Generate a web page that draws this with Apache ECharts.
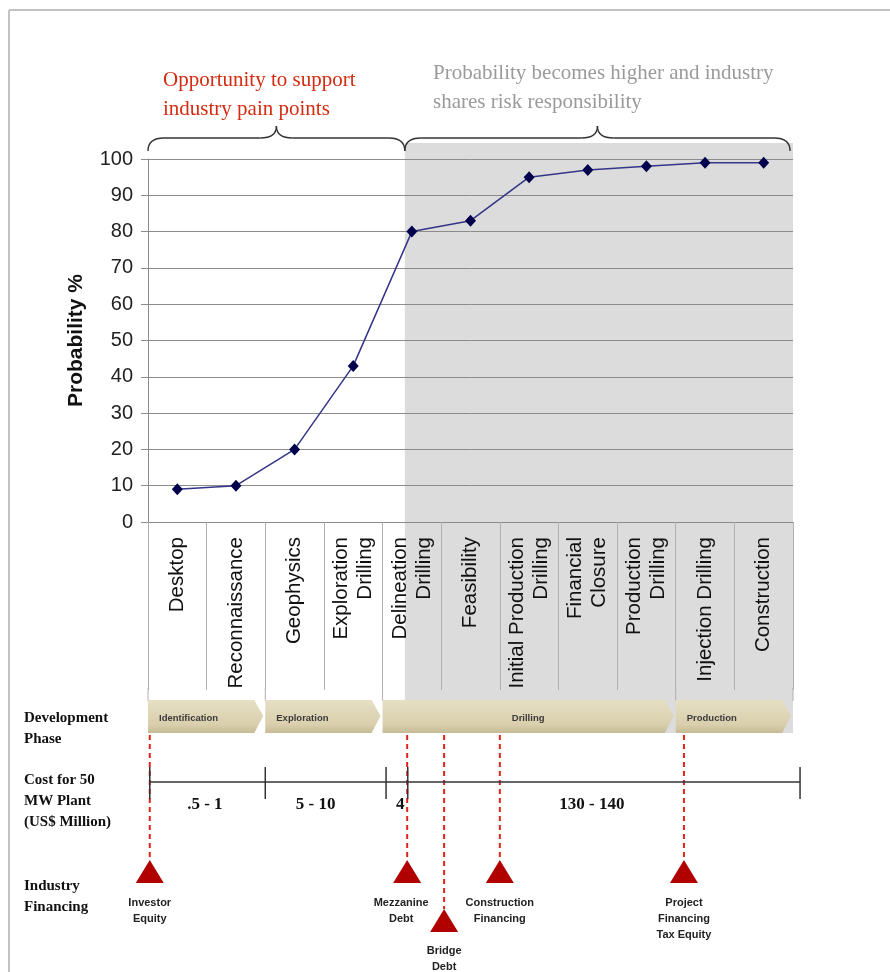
<!DOCTYPE html>
<html><head><meta charset="utf-8">
<script src="https://cdn.jsdelivr.net/npm/echarts@6/dist/echarts.min.js"></script>
<style>html,body{margin:0;padding:0;background:#fff}#c{width:890px;height:972px}</style>
</head><body><div id="c"></div>
<script>
// ---- data ----
const categories = ['Desktop','Reconnaissance','Geophysics','Exploration\nDrilling','Delineation\nDrilling','Feasibility','Initial Production\nDrilling','Financial\nClosure','Production\nDrilling','Injection Drilling','Construction'];
const probability = [9, 10, 20, 43, 80, 83, 95, 97, 98, 99, 99];
const yMin = 0, yMax = 100, yInterval = 10;
const yAxisTitle = 'Probability %';
const phaseNames = ['Identification','Exploration','Drilling','Production'];
const phaseStart = [0, 2, 4, 9];
const phaseEnd = [2, 4, 9, 11];
const phaseTextAlign = ['left','left','center','left'];
const costTicks = [0.03, 2.0, 4.06, 4.43, 11.12];
const costLabels = ['.5 - 1', '5 - 10', '4', '130 - 140'];
const costLabelPos = [0.97, 2.86, 4.3, 7.57];
const financingNames = ['Investor\nEquity','Mezzanine\nDebt','Bridge\nDebt','Construction\nFinancing','Project\nFinancing\nTax Equity'];
const financingPos = [0.03, 4.42, 5.05, 6.0, 9.14];
const financingRow = [0, 0, 1, 0, 0];
const shadeSpan = [4.38, 11];
const braceSpans = [[0, 4.38], [4.38, 10.95]];
const noteLeft = 'Opportunity to support\nindustry pain points';
const noteRight = 'Probability becomes higher and industry\nshares risk responsibility';
const rowLabels = ['Development\nPhase', 'Cost for 50\nMW Plant\n(US$ Million)', 'Industry\nFinancing'];

// ---- chart ----
const chart = echarts.init(document.getElementById('c'), null, {renderer: 'canvas'});
const SANS = '"Liberation Sans", Arial, sans-serif';
const SERIF = '"Liberation Serif", "Times New Roman", serif';
chart.setOption({
  animation: false,
  backgroundColor: '#fff',
  grid: {left: 148, right: 97, top: 159, bottom: 450, containLabel: false},
  xAxis: [{
    type: 'category', data: categories, boundaryGap: true, gridIndex: 0,
    axisLine: {show: true, lineStyle: {color: '#8a8a8a', width: 1}},
    axisTick: {show: true, interval: 0, length: 168, lineStyle: {color: '#b0b0b0', width: 1}},
    axisLabel: {interval: 0, rotate: 90, margin: 15, color: '#111', fontSize: 20.5, lineHeight: 24, fontFamily: SANS},
    splitLine: {show: false}
  }, {
    type: 'value', min: 0, max: 11, show: false, gridIndex: 0
  }],
  yAxis: {
    type: 'value', min: yMin, max: yMax, interval: yInterval,
    name: yAxisTitle, nameLocation: 'middle', nameGap: 61, nameRotate: 90,
    nameTextStyle: {fontSize: 21, fontWeight: 'bold', color: '#111', fontFamily: SANS},
    axisLine: {show: true, lineStyle: {color: '#8a8a8a'}},
    axisTick: {show: true, length: 7, lineStyle: {color: '#8a8a8a'}},
    axisLabel: {margin: 15, color: '#222', fontSize: 20, fontFamily: SANS},
    splitLine: {show: true, lineStyle: {color: '#8c8c8c', width: 1}}
  },
  series: [{
    type: 'line', data: probability, xAxisIndex: 0,
    symbol: 'diamond', symbolSize: [11, 12], showSymbol: true,
    lineStyle: {color: '#343488', width: 1.5},
    itemStyle: {color: '#00004d'},
    z: 5
  }]
});

const xOf = p => chart.convertToPixel({xAxisIndex: 1}, p);
const G = [];
// border
G.push({type: 'line', shape: {x1: 9, y1: 10, x2: 890, y2: 10}, style: {stroke: '#c2c2c2', lineWidth: 2}, z: 100});
G.push({type: 'line', shape: {x1: 9, y1: 10, x2: 9, y2: 972}, style: {stroke: '#c2c2c2', lineWidth: 2}, z: 100});
// shaded region
G.push({type: 'rect', shape: {x: xOf(shadeSpan[0]), y: 143, width: xOf(shadeSpan[1]) - xOf(shadeSpan[0]), height: 733 - 143}, style: {fill: '#dcdcdc'}, z: -10});
// braces
const braceStyle = {stroke: '#333', lineWidth: 1.4, fill: null};
braceSpans.forEach(([a, b]) => {
  const x1 = xOf(a), x2 = xOf(b), xm = (x1 + x2) / 2, yb = 151, ym = 138, yt = 126, r = 16;
  G.push({type: 'bezierCurve', shape: {x1: x1, y1: yb, cpx1: x1, cpy1: ym, x2: x1 + r, y2: ym}, style: braceStyle, z: 100});
  G.push({type: 'line', shape: {x1: x1 + r, y1: ym, x2: xm - r, y2: ym}, style: braceStyle, z: 100});
  G.push({type: 'bezierCurve', shape: {x1: xm - r, y1: ym, cpx1: xm, cpy1: ym, x2: xm, y2: yt}, style: braceStyle, z: 100});
  G.push({type: 'bezierCurve', shape: {x1: xm, y1: yt, cpx1: xm, cpy1: ym, x2: xm + r, y2: ym}, style: braceStyle, z: 100});
  G.push({type: 'line', shape: {x1: xm + r, y1: ym, x2: x2 - r, y2: ym}, style: braceStyle, z: 100});
  G.push({type: 'bezierCurve', shape: {x1: x2 - r, y1: ym, cpx1: x2, cpy1: ym, x2: x2, y2: yb}, style: braceStyle, z: 100});
});
// notes
G.push({type: 'text', x: 163, y: 66, style: {text: noteLeft, fill: '#d42c10', font: '21px ' + SERIF, lineHeight: 29, textVerticalAlign: 'top'}, z: 100});
G.push({type: 'text', x: 433, y: 59, style: {text: noteRight, fill: '#9a9a9a', font: '21px ' + SERIF, lineHeight: 29, textVerticalAlign: 'top'}, z: 100});
// phase boundary extension lines
[0, 2, 4, 9, 11].forEach(p => {
  G.push({type: 'line', shape: {x1: xOf(p), y1: 688, x2: xOf(p), y2: 701}, style: {stroke: '#b0b0b0', lineWidth: 1}, z: 50});
});
// phase chevrons
phaseNames.forEach((n, i) => {
  const xs = xOf(phaseStart[i]), xe = xOf(phaseEnd[i]) - 2;
  G.push({type: 'polygon', shape: {points: [[xs, 700], [xe - 9, 700], [xe, 716], [xe - 9, 733], [xs, 733]]},
    style: {fill: {type: 'linear', x: 0, y: 0, x2: 0, y2: 1, colorStops: [{offset: 0, color: '#e6dfc4'}, {offset: 0.75, color: '#d9cfad'}, {offset: 1, color: '#c6ba94'}]}}, z: 60});
  const al = phaseTextAlign[i];
  const tx = al === 'center' ? (xs + xe) / 2 : xs + 11;
  G.push({type: 'text', x: tx, y: 718, style: {text: n, fill: '#3a3a3a', font: 'bold 9.5px ' + SANS, textAlign: al, textVerticalAlign: 'middle'}, z: 61});
});
// row labels
const rowY = [708, 770, 876];
rowLabels.forEach((t, i) => {
  G.push({type: 'text', x: 24, y: rowY[i], style: {text: t, fill: '#111', font: 'bold 15px ' + SERIF, lineHeight: 21, textVerticalAlign: 'top'}, z: 100});
});
// cost scale
G.push({type: 'line', shape: {x1: xOf(costTicks[0]), y1: 782, x2: xOf(costTicks[costTicks.length - 1]), y2: 782}, style: {stroke: '#333', lineWidth: 1.5}, z: 100});
costTicks.forEach(p => {
  G.push({type: 'line', shape: {x1: xOf(p), y1: 767, x2: xOf(p), y2: 799}, style: {stroke: '#333', lineWidth: 1.5}, z: 100});
});
costLabels.forEach((t, i) => {
  G.push({type: 'text', x: xOf(costLabelPos[i]), y: 805, style: {text: t, fill: '#111', font: 'bold 17px ' + SERIF, textAlign: 'center', textVerticalAlign: 'middle'}, z: 100});
});
// financing markers
financingNames.forEach((t, i) => {
  const x = xOf(financingPos[i]);
  const row = financingRow[i];
  const apex = row ? 909 : 860, base = apex + 23;
  G.push({type: 'line', shape: {x1: x, y1: 735, x2: x, y2: apex}, style: {stroke: '#e3231b', lineWidth: 2, lineDash: [5, 4]}, z: 90});
  G.push({type: 'polygon', shape: {points: [[x, apex], [x + 14, base], [x - 14, base]]}, style: {fill: '#b00000'}, z: 95});
  const ty = row ? 943 : 895;
  G.push({type: 'text', x: x - (i === 1 ? 6 : 0), y: ty, style: {text: t, fill: '#222', font: 'bold 11px ' + SANS, lineHeight: 16, textAlign: 'center', textVerticalAlign: 'top'}, z: 100});
});
chart.setOption({graphic: {elements: G}});
</script></body></html>
